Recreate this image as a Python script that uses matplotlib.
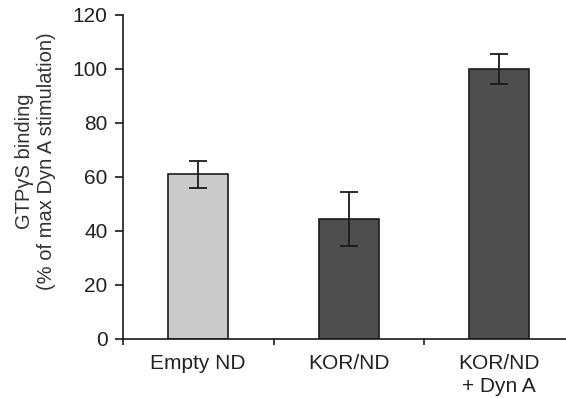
import matplotlib
matplotlib.use("Agg")
import matplotlib.pyplot as plt
from matplotlib.ticker import FixedLocator

# data
categories = ["Empty ND", "KOR/ND", "KOR/ND\n+ Dyn A"]
values = [61, 44.5, 100]
errors = [5, 10, 5.5]
colors = ["#cacaca", "#4d4f4e", "#4d4f4e"]

plt.rcParams["font.family"] = ["Liberation Sans", "DejaVu Sans"]
plt.rcParams["font.size"] = 15

fig = plt.figure(figsize=(5.66, 3.98), dpi=100)
ax = fig.add_axes([123 / 566, 59 / 398, 1 - 123 / 566, 324 / 398])

x = list(range(len(categories)))
ax.bar(x, values, width=0.4, color=colors, edgecolor="#1a1a1a", linewidth=1.2, zorder=2)
ax.errorbar(x, values, yerr=errors, fmt="none", ecolor="#1a1a1a",
            elinewidth=1.3, capsize=6.5, capthick=1.3, zorder=3)

ax.set_ylim(0, 120)
ax.set_yticks(range(0, 121, 20))
ax.set_xlim(-0.5, -0.5 + 443 / 150.5)

# category labels centred on bars, ticks at the boundaries between them
ax.set_xticks(x)
ax.set_xticklabels(categories, linespacing=1.25)
ax.tick_params(axis="x", which="major", length=0, pad=11)
ax.xaxis.set_minor_locator(FixedLocator([-0.5, 0.5, 1.5]))
ax.tick_params(axis="x", which="minor", length=4, width=1.2, color="#1a1a1a", direction="out")
ax.tick_params(axis="y", length=6, width=1.2, color="#1a1a1a", pad=5, direction="out")
ax.tick_params(labelcolor="#222222")

for side in ["top", "right"]:
    ax.spines[side].set_visible(False)
for side in ["left", "bottom"]:
    ax.spines[side].set_linewidth(1.2)
    ax.spines[side].set_color("#1a1a1a")

fig.text(36 / 566, 1 - 161 / 398, "GTPγS binding\n(% of max Dyn A stimulation)",
         rotation=90, ha="center", va="center", fontsize=14.5, color="#333333",
         linespacing=1.2)

fig.savefig("out.png", dpi=100)
